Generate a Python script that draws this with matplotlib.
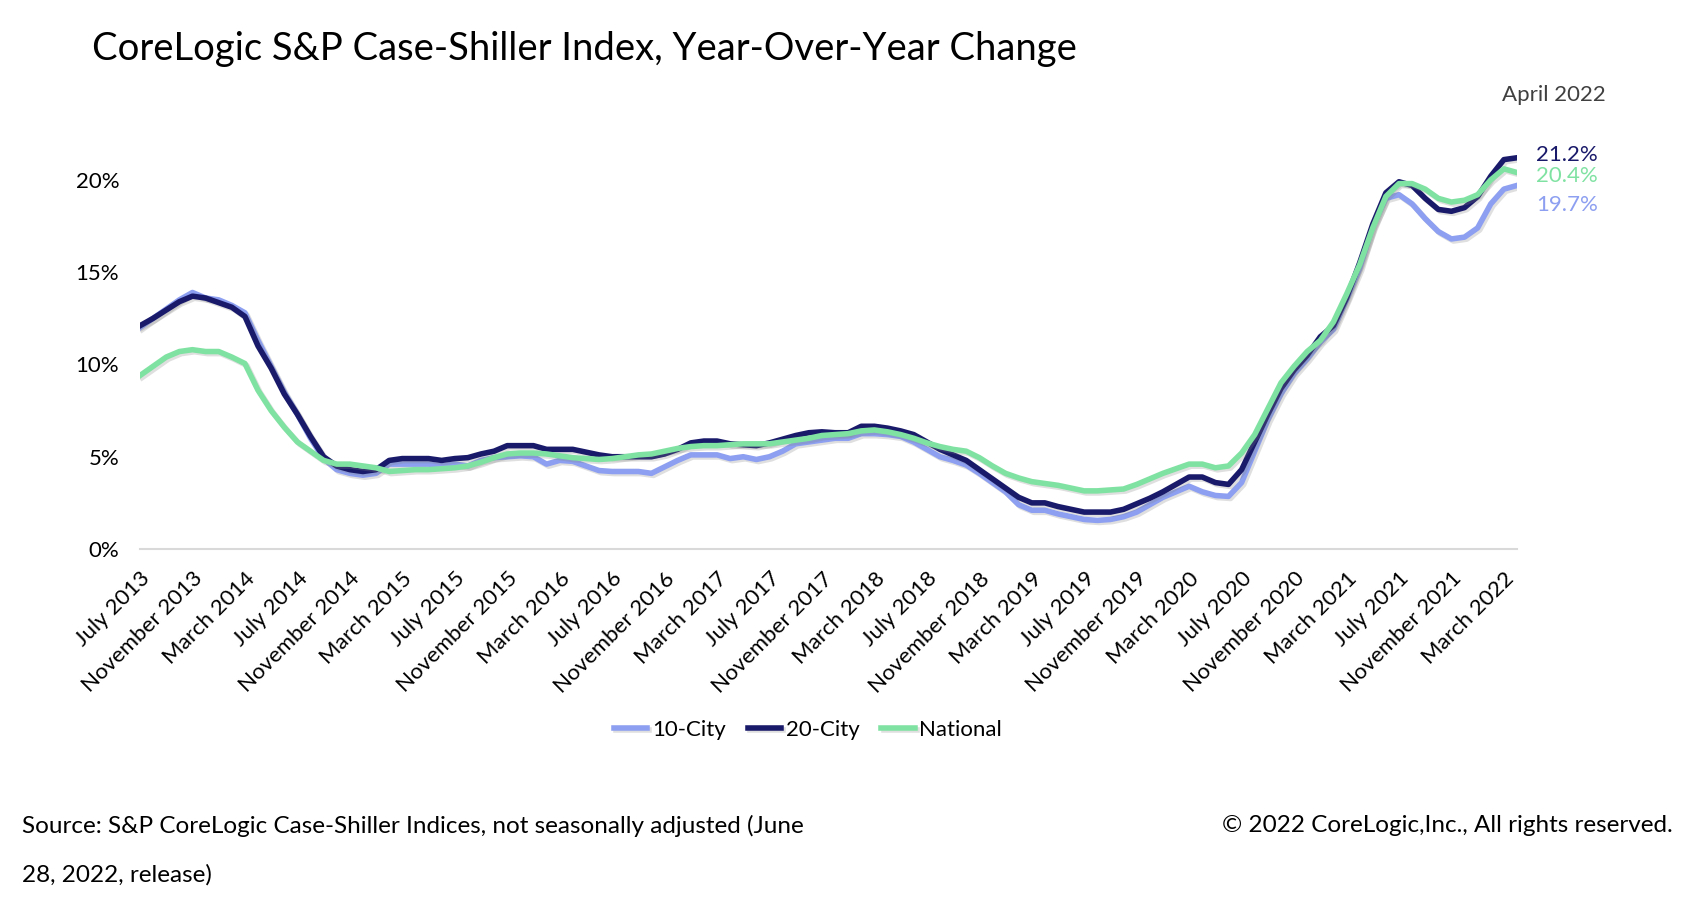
import numpy as np
import pandas as pd
import matplotlib
matplotlib.use('Agg')
import matplotlib.pyplot as plt
import matplotlib.patheffects as pe

plt.rcParams['font.family'] = ['Lato', 'DejaVu Sans']

# Monthly YoY change (%), July 2013 - April 2022
months = pd.date_range('2013-07-01', '2022-04-01', freq='MS')

city10 = [12.0, 12.5, 13.0, 13.5, 13.9, 13.6,                                   # 2013
          13.5, 13.2, 12.8, 11.3, 9.9, 8.5, 7.3, 6.0, 4.9, 4.3, 4.1, 4.0,       # 2014
          4.1, 4.6, 4.6, 4.6, 4.6, 4.5, 4.6, 4.5, 4.8, 4.95, 5.0, 5.05,         # 2015
          5.0, 4.6, 4.8, 4.75, 4.5, 4.25, 4.2, 4.2, 4.2, 4.1, 4.45, 4.8,        # 2016
          5.1, 5.1, 5.1, 4.9, 5.0, 4.85, 5.0, 5.3, 5.7, 5.8, 5.9, 6.0,          # 2017
          6.0, 6.25, 6.25, 6.2, 6.1, 5.8, 5.4, 5.0, 4.8, 4.55, 4.1, 3.6,        # 2018
          3.1, 2.4, 2.1, 2.1, 1.9, 1.75, 1.6, 1.55, 1.6, 1.75, 2.0, 2.4,        # 2019
          2.8, 3.1, 3.4, 3.1, 2.9, 2.85, 3.6, 5.3, 7.0, 8.4, 9.5, 10.3,         # 2020
          11.2, 11.9, 13.5, 15.2, 17.5, 19.0, 19.2, 18.7, 17.9, 17.2, 16.8, 16.9,  # 2021
          17.4, 18.7, 19.5, 19.7]                                               # 2022

city20 = [12.1, 12.5, 12.95, 13.4, 13.7, 13.6,
          13.35, 13.1, 12.6, 11.0, 9.8, 8.4, 7.3, 6.1, 5.0, 4.5, 4.3, 4.2,
          4.3, 4.8, 4.9, 4.9, 4.9, 4.8, 4.9, 4.95, 5.15, 5.3, 5.6, 5.6,
          5.6, 5.4, 5.4, 5.4, 5.25, 5.1, 5.0, 5.0, 5.0, 5.0, 5.15, 5.4,
          5.75, 5.85, 5.85, 5.7, 5.65, 5.6, 5.75, 5.95, 6.15, 6.3, 6.35, 6.3,
          6.3, 6.65, 6.65, 6.55, 6.4, 6.2, 5.8, 5.4, 5.1, 4.8, 4.3, 3.8,
          3.3, 2.8, 2.5, 2.5, 2.3, 2.15, 2.0, 2.0, 2.0, 2.15, 2.45, 2.75,
          3.1, 3.5, 3.9, 3.9, 3.6, 3.5, 4.3, 5.8, 7.3, 8.7, 9.7, 10.5,
          11.5, 12.1, 13.6, 15.5, 17.6, 19.3, 19.9, 19.7, 19.0, 18.4, 18.3, 18.5,
          19.1, 20.2, 21.1, 21.2]

national = [9.4, 9.9, 10.4, 10.7, 10.8, 10.7,
            10.7, 10.4, 10.05, 8.6, 7.5, 6.6, 5.8, 5.3, 4.8, 4.6, 4.6, 4.5,
            4.4, 4.2, 4.25, 4.3, 4.3, 4.35, 4.4, 4.5, 4.7, 4.95, 5.15, 5.2,
            5.2, 5.15, 5.05, 4.95, 4.9, 4.85, 4.9, 5.0, 5.1, 5.15, 5.3, 5.45,
            5.55, 5.6, 5.6, 5.65, 5.7, 5.7, 5.7, 5.8, 5.9, 6.0, 6.15, 6.2,
            6.25, 6.4, 6.45, 6.35, 6.2, 6.0, 5.75, 5.55, 5.4, 5.3, 4.95, 4.5,
            4.1, 3.85, 3.65, 3.55, 3.45, 3.3, 3.15, 3.15, 3.2, 3.25, 3.5, 3.8,
            4.1, 4.35, 4.6, 4.6, 4.4, 4.5, 5.2, 6.2, 7.6, 9.0, 9.9, 10.7,
            11.3, 12.3, 13.8, 15.4, 17.4, 19.1, 19.8, 19.8, 19.5, 19.0, 18.8, 18.9,
            19.2, 20.0, 20.6, 20.4]

series = ['10-City', '20-City', 'National']
colors = ['#8d9ff0', '#1a1a6b', '#80e2a2']
values = [city10, city20, national]

W, H = 1690, 916
fig = plt.figure(figsize=(W / 100, H / 100), dpi=100)
ax = fig.add_axes([140 / W, 1 - 549 / H, (1517 - 140) / W, (549 - 143) / H])

x = np.arange(len(months))
shadow = [pe.SimpleLineShadow(offset=(1.5, -1.5), alpha=0.25, shadow_color='gray'), pe.Normal()]
for name, col, vals in zip(series, colors, values):
    ax.plot(x, vals, color=col, lw=4, label=name, path_effects=shadow, solid_joinstyle='round')

ax.set_xlim(0, len(months) - 1)
ax.set_ylim(0, 22)
ax.set_yticks([0, 5, 10, 15, 20])
ax.set_yticklabels(['0%', '5%', '10%', '15%', '20%'])
tick_pos = x[::4]
ax.set_xticks(tick_pos)
ax.set_xticklabels([months[i].strftime('%B %Y') for i in tick_pos],
                   rotation=45, ha='right', rotation_mode='anchor')
ax.tick_params(axis='both', length=0, labelsize=16, colors='black')
ax.tick_params(axis='y', pad=15)
ax.tick_params(axis='x', pad=14)
for s in ['top', 'right', 'left']:
    ax.spines[s].set_visible(False)
ax.spines['bottom'].set_color('#d9d9d9')
ax.spines['bottom'].set_linewidth(1.5)

# end-of-series labels
last = {'20-City': (155, '21.2%'), 'National': (176, '20.4%'), '10-City': (205, '19.7%')}
for name, col in zip(series, colors):
    yy, txt = last[name]
    fig.text(1536 / W, 1 - yy / H, txt, color=col, fontsize=16, va='center', ha='left')
fig.text(1606 / W, 1 - 95 / H, 'April 2022', color='#404040', fontsize=16, va='center', ha='right')

fig.text(92 / W, 1 - 49 / H, 'CoreLogic S&P Case-Shiller Index, Year-Over-Year Change',
         fontsize=27.5, va='center', ha='left')

fig.legend(loc='center', bbox_to_anchor=(808 / W, 1 - 730 / H), ncol=3, frameon=False,
           fontsize=16, handlelength=1.5, handletextpad=0.2, columnspacing=1.0)

fig.text(22 / W, 1 - 826 / H, 'Source: S&P CoreLogic Case-Shiller Indices, not seasonally adjusted (June',
         fontsize=17.5, va='center', ha='left')
fig.text(22 / W, 1 - 875 / H, '28, 2022, release)', fontsize=17.5, va='center', ha='left')
fig.text(1673 / W, 1 - 826 / H, '\u00a9 2022 CoreLogic,Inc., All rights reserved.',
         fontsize=17.5, va='center', ha='right')

fig.savefig('out.png', dpi=100)
